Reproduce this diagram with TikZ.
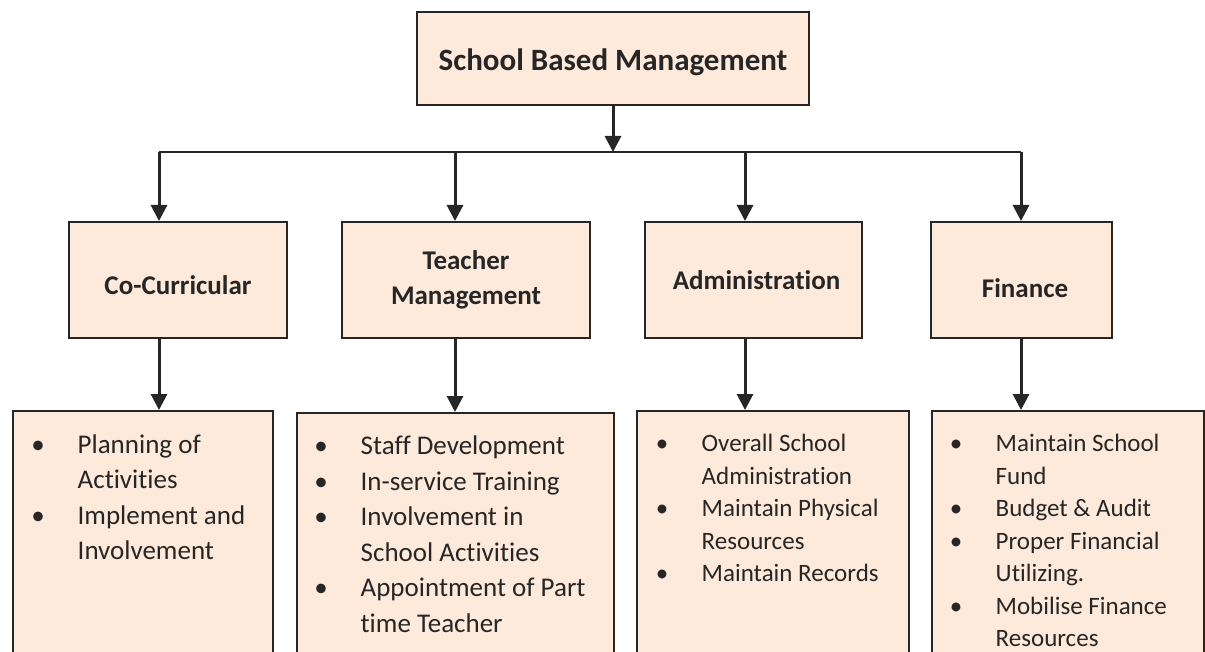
\documentclass[tikz,border=0pt]{standalone}
\usepackage{fontspec}
\setmainfont{Carlito}[Ligatures=NoCommon]
\usetikzlibrary{arrows.meta}

\definecolor{peach}{RGB}{253,234,218}
\definecolor{edge}{RGB}{38,38,38}

\tikzset{
    box/.style={draw=edge, fill=peach, line width=2pt, inner sep=0pt},
    link/.style={draw=edge, line width=3pt, -{Triangle[width=16pt,length=16pt]}},
    bus/.style={draw=edge, line width=2pt},
    head/.style={font=\bfseries\fontsize{27}{35}\selectfont, align=center, text=edge},
    items/.style={inner sep=0pt, anchor=base west, text=edge},
    big/.style={font=\fontsize{27}{35.5}\selectfont},
    small/.style={font=\fontsize{25}{32.5}\selectfont},
}
\newcommand{\bul}{\makebox[0pt]{\textbullet}\hspace*{39.5pt}}
\newcommand{\down}[2]{\raisebox{-#1}[\height][\depth]{#2}}

\begin{document}
\begin{tikzpicture}[x=1pt, y=-1pt]

    \clip (0,0) rectangle (1205,652);

    % top
    \node[box, minimum width=392pt, minimum height=93pt, font=\bfseries\fontsize{31}{37}\selectfont, text=edge]
        (sbm) at (613,58.5) {\down{4pt}{School Based Management}};

    % second row
    \node[box, head, minimum width=218pt, minimum height=116pt] (cc) at (178,280) {\down{5pt}{Co-Curricular}};
    \node[box, head, minimum width=248pt, minimum height=116pt] (tm) at (466,280) {Teacher\\Management};
    \node[box, head, minimum width=217pt, minimum height=116pt] (ad) at (753.5,280) {\hspace*{6pt}Administration};
    \node[box, head, minimum width=181pt, minimum height=116pt] (fi) at (1021.5,280) {\hspace*{7pt}\down{8pt}{Finance}};

    % bottom row (runs past the page edge)
    \node[box, anchor=north west, minimum width=260pt, minimum height=300pt] (l1) at (12,410) {};
    \node[box, anchor=north west, minimum width=317pt, minimum height=300pt] (l2) at (296,412) {};
    \node[box, anchor=north west, minimum width=272pt, minimum height=300pt] (l3) at (636,410) {};
    \node[box, anchor=north west, minimum width=272pt, minimum height=300pt] (l4) at (931,410) {};

    % lists
    \node[items, big] (t1) at (38,453) {\begin{tabular}[t]{@{}l@{}l@{}}
        \bul & Planning of\\ & Activities\\
        \bul & Implement and\\ & Involvement
    \end{tabular}};
    \node[items, big] (t2) at (321,454.5) {\begin{tabular}[t]{@{}l@{}l@{}}
        \bul & Staff Development\\
        \bul & In-service Training\\
        \bul & Involvement in\\ & School Activities\\
        \bul & Appointment of Part\\ & time Teacher
    \end{tabular}};
    \node[items, small] (t3) at (662,451.5) {\begin{tabular}[t]{@{}l@{}l@{}}
        \bul & Overall School\\ & Administration\\
        \bul & Maintain Physical\\ & Resources\\
        \bul & Maintain Records
    \end{tabular}};
    \node[items, small] (t4) at (956,451.5) {\begin{tabular}[t]{@{}l@{}l@{}}
        \bul & Maintain School\\ & Fund\\
        \bul & Budget \& Audit\\
        \bul & Proper Financial\\ & Utilizing.\\
        \bul & Mobilise Finance\\ & Resources
    \end{tabular}};

    % bus
    \coordinate (j0) at (613,152);
    \coordinate (j1) at (159,152);
    \coordinate (j2) at (455,152);
    \coordinate (j3) at (745,152);
    \coordinate (j4) at (1021,152);
    \draw[bus] (j1) -- (j4);
    \draw[link] (sbm.south) -- (j0);

    % arrows
    \draw[link] (j1) -- (j1 |- cc.north);
    \draw[link] (j2) -- (j2 |- tm.north);
    \draw[link] (j3) -- (j3 |- ad.north);
    \draw[link] (j4) -- (j4 |- fi.north);

    \draw[link] (cc.south -| j1) -- (j1 |- l1.north);
    \draw[link] (tm.south -| j2) -- (j2 |- l2.north);
    \draw[link] (ad.south -| j3) -- (j3 |- l3.north);
    \draw[link] (fi.south -| j4) -- (j4 |- l4.north);

\end{tikzpicture}
\end{document}
